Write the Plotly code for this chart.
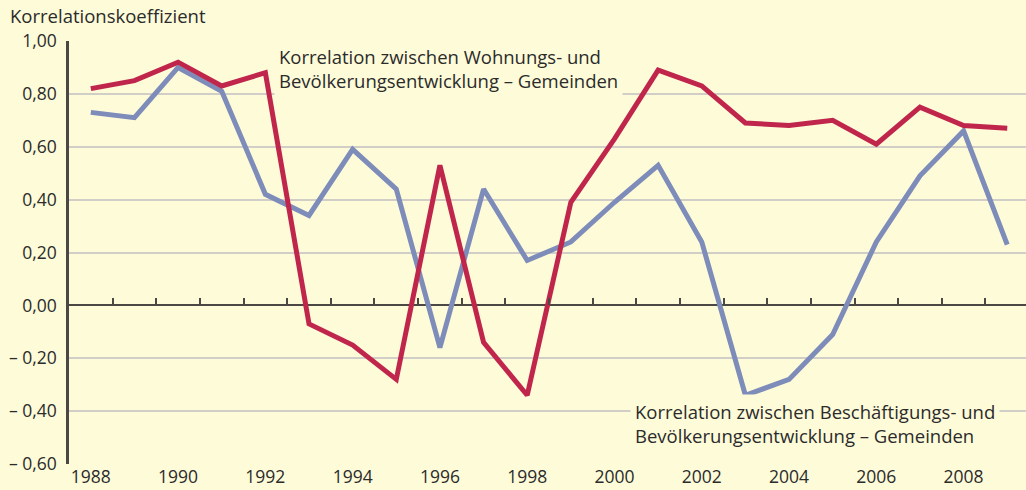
import plotly.graph_objects as go

years = list(range(1988, 2010))
wohnung = [0.82, 0.85, 0.92, 0.83, 0.88, -0.07, -0.15, -0.28, 0.53, -0.14, -0.34,
           0.39, 0.63, 0.89, 0.83, 0.69, 0.68, 0.70, 0.61, 0.75, 0.68, 0.67]
beschaeft = [0.73, 0.71, 0.90, 0.81, 0.42, 0.34, 0.59, 0.44, -0.16, 0.44, 0.17,
             0.24, 0.39, 0.53, 0.24, -0.34, -0.28, -0.11, 0.24, 0.49, 0.66, 0.23]
ytickvals = [1.0, 0.8, 0.6, 0.4, 0.2, 0.0, -0.2, -0.4, -0.6]
yticktext = ["1,00", "0,80", "0,60", "0,40", "0,20", "0,00", "– 0,20", "– 0,40", "– 0,60"]
xtickvals = list(range(1988, 2009, 2))
minor_ticks = [y + 0.5 for y in range(1988, 2009)]

label_w = "Korrelation zwischen Wohnungs- und<br>Bevölkerungsentwicklung – Gemeinden"
label_b = "Korrelation zwischen Beschäftigungs- und<br>Bevölkerungsentwicklung – Gemeinden"
title_text = "Korrelationskoeffizient"

BG = "#FEFBD9"
RED = "#C0264C"
BLUE = "#7E8CBA"
DARK = "#4A4744"
GRID = "#D0CEC6"
TXT = "#2B2B2B"
FONT = "Open Sans"

xr = [1987.5, 2009.43]

fig = go.Figure()
fig.add_trace(go.Scatter(x=years, y=beschaeft, mode="lines",
                         line=dict(color=BLUE, width=5), showlegend=False))
fig.add_trace(go.Scatter(x=years, y=wohnung, mode="lines",
                         line=dict(color=RED, width=5), showlegend=False))
# invisible trace to carry the zero-line tick axis
fig.add_trace(go.Scatter(x=[xr[0]], y=[0], mode="markers", xaxis="x2",
                         marker=dict(opacity=0), showlegend=False, hoverinfo="skip"))

fig.update_layout(
    width=1026, height=490,
    margin=dict(l=69, r=0, t=41, b=26, autoexpand=False),
    paper_bgcolor=BG, plot_bgcolor=BG,
    font=dict(family=FONT, size=17.5, color=TXT),
    xaxis=dict(range=xr, tickvals=xtickvals, showgrid=False, zeroline=False,
               showline=False, ticks="", automargin=False,
               tickfont=dict(size=17.5, color=TXT)),
    xaxis2=dict(range=xr, overlaying="x", anchor="free", position=0.375, side="top",
                tickvals=minor_ticks, ticks="outside", ticklen=7, tickwidth=1.5,
                tickcolor=DARK, showticklabels=False, showgrid=False, automargin=False,
                zeroline=False, showline=False),
    yaxis=dict(range=[-0.6, 1.0], tickvals=ytickvals, ticktext=yticktext,
               showgrid=True, gridcolor=GRID, gridwidth=1.5, automargin=False,
               zeroline=True, zerolinecolor=DARK, zerolinewidth=2,
               showline=True, linecolor=DARK, linewidth=2.5, ticks="",
               layer="above traces",
               ticklabelstandoff=6, tickfont=dict(size=17.5, color=TXT)),
    title=dict(text=title_text, x=10 / 1026, xanchor="left", xref="container",
               y=1 - 17 / 490, yanchor="middle", yref="container", automargin=False,
               font=dict(size=18.5, color=TXT, family=FONT)),
    annotations=[
        dict(x=1992.19, y=0.896, xref="x", yref="y", text=label_w, showarrow=False,
             xanchor="left", yanchor="middle", align="left", bgcolor=BG,
             borderpad=4, font=dict(size=18.5, color=TXT, family=FONT)),
        dict(x=2000.36, y=-0.445, xref="x", yref="y", text=label_b, showarrow=False,
             xanchor="left", yanchor="middle", align="left", bgcolor=BG,
             borderpad=4, font=dict(size=18.5, color=TXT, family=FONT)),
    ],
)
fig.write_html(
    "out.html",
    config={"displayModeBar": False},
    post_script="document.body.style.margin='0';document.body.style.background='%s';" % BG,
)
